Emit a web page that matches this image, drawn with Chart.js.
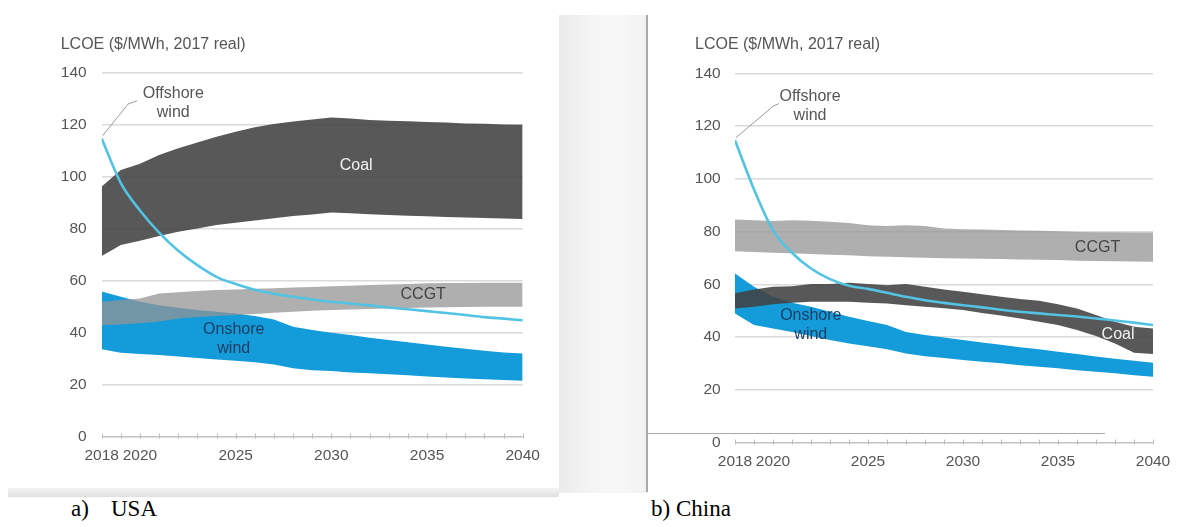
<!DOCTYPE html>
<html>
<head>
<meta charset="utf-8">
<script src="https://cdn.jsdelivr.net/npm/chart.js@4.4.1/dist/chart.umd.min.js"></script>
<style>
  html, body { margin: 0; padding: 0; background: #fff; }
  body { width: 1182px; height: 527px; position: relative; overflow: hidden; }
  .deco { position: absolute; }
  #band { left: 559px; top: 15px; width: 88px; height: 478px;
          background: linear-gradient(to right, #ebebeb, #f4f4f4 35%, #f8f8f8 65%, #f1f1f1); }
  #bottomShade { left: 8px; top: 488px; width: 551px; height: 9px;
                 background: linear-gradient(to bottom, #f3f3f3, #e0e0e0); }
  #vline { left: 646px; top: 15px; width: 1.5px; height: 477px; background: #a9a9a9; }
  #hline { left: 646px; top: 432.5px; width: 459px; height: 1.5px; background: #a9a9a9; }
  canvas { position: absolute; top: 0; }
  #usa { left: 0; }
  #china { left: 600px; }
  .cap { position: absolute; top: 497px; font-family: "Liberation Serif", "Times New Roman", serif;
         font-size: 23px; line-height: 23px; color: #000; white-space: pre; }
</style>
</head>
<body>
<div class="deco" id="band"></div>
<div class="deco" id="bottomShade"></div>
<div class="deco" id="vline"></div>
<div class="deco" id="hline"></div>
<canvas id="usa" width="560" height="490"></canvas>
<canvas id="china" width="582" height="495"></canvas>
<div class="cap" style="left:71px">a)</div>
<div class="cap" style="left:111px">USA</div>
<div class="cap" style="left:651px">b) China</div>

<script>
// Years on the horizontal axis and the labelled ticks
const years = [2018, 2019, 2020, 2021, 2022, 2023, 2024, 2025, 2026, 2027, 2028, 2029,
               2030, 2031, 2032, 2033, 2034, 2035, 2036, 2037, 2038, 2039, 2040];
const xTickYears = [2018, 2020, 2025, 2030, 2035, 2040];
const yTicks = [0, 20, 40, 60, 80, 100, 120, 140];

// USA – LCOE ranges ($/MWh, 2017 real)
const usaCoalHigh = [96.2, 102.6, 105, 108.3, 110.9, 113.2, 115.4, 117.3, 119, 120.3, 121.2, 122,
                     122.8, 122.4, 121.8, 121.5, 121.3, 121, 120.8, 120.5, 120.4, 120.1, 120];
const usaCoalLow = [69.5, 73.7, 75.4, 77.2, 78.8, 80.1, 81.4, 82.3, 83.2, 84, 84.9, 85.5,
                    86.2, 85.9, 85.6, 85.3, 85, 84.8, 84.5, 84.3, 84.1, 83.9, 83.7];
const usaCcgtHigh = [51.9, 52.6, 53.2, 55.1, 55.6, 56, 56.4, 56.6, 56.9, 57.1, 57.4, 57.6,
                     57.9, 58.1, 58.3, 58.5, 58.7, 59, 59.1, 59.1, 59.2, 59.2, 59.2];
const usaCcgtLow = [42.9, 43.2, 43.6, 44.3, 45.5, 46, 46.4, 46.8, 47.2, 47.7, 48.1, 48.4,
                    48.7, 48.9, 49.1, 49.3, 49.5, 49.7, 49.8, 49.9, 50, 50, 50];
const usaOnshoreHigh = [55.8, 53.8, 51.9, 50.6, 49.6, 48.7, 48.1, 47.4, 46.4, 45.1, 42.3, 41,
                        40, 39.1, 38.1, 37.2, 36.3, 35.5, 34.6, 33.8, 33.1, 32.4, 32];
const usaOnshoreLow = [33.6, 32.3, 31.8, 31.4, 30.8, 30.3, 29.7, 29.2, 28.6, 27.8, 26.3, 25.6,
                       25.3, 24.7, 24.4, 24, 23.6, 23.2, 22.8, 22.4, 22.1, 21.8, 21.5];
const usaOffshore = [114.7, 97.5, 87, 78.5, 71.5, 66, 61.5, 58.7, 56.5, 55, 53.8, 52.8,
                     51.9, 51.2, 50.5, 49.7, 49, 48.3, 47.6, 46.8, 46, 45.4, 44.8];

// China – LCOE ranges ($/MWh, 2017 real)
const chnCcgtHigh = [84.6, 84.3, 84, 84.3, 84.1, 83.7, 83.3, 82.4, 82.1, 82.4, 82.1, 81.2,
                     80.9, 80.8, 80.6, 80.4, 80.3, 80.1, 79.9, 79.8, 79.8, 79.7, 79.7];
const chnCcgtLow = [72.6, 72.3, 72, 71.8, 71.5, 71.2, 71, 70.7, 70.5, 70.3, 70.1, 69.9,
                    69.8, 69.7, 69.6, 69.4, 69.3, 69.2, 69, 68.9, 68.8, 68.7, 68.6];
const chnCoalHigh = [56.6, 58.1, 59.1, 59.3, 60.1, 60.1, 60.6, 60.1, 59.7, 60.1, 59.1, 58.1,
                     57.2, 56.3, 55.3, 54.5, 53.8, 52.5, 50.9, 48.4, 45.8, 43.9, 43.3];
const chnCoalLow = [50.9, 51.5, 52.5, 53, 53.4, 53.4, 53.4, 53, 52.8, 52.1, 51.5, 51,
                    50.3, 49.2, 48.2, 47.1, 45.8, 44.6, 42.7, 40.4, 37.6, 34.1, 33.6];
const chnOnshoreHigh = [64.1, 59.1, 55.3, 53, 51.5, 49.6, 47.7, 46.1, 44.6, 42, 40.8, 39.9,
                        38.9, 38, 37.1, 36.2, 35.4, 34.5, 33.6, 32.7, 31.8, 31.1, 30.3];
const chnOnshoreLow = [49, 44.6, 43.3, 42, 40.4, 38.9, 37.6, 36.6, 35.4, 33.8, 32.8, 32.1,
                       31.3, 30.7, 30.1, 29.4, 28.8, 28.2, 27.5, 26.9, 26.3, 25.6, 25];
const chnOffshore = [114.6, 96, 80.5, 72, 66, 62, 59.5, 58.3, 56.8, 55.3, 54, 53,
                     52.1, 51.3, 50.4, 49.6, 49, 48.4, 47.8, 47.1, 46.3, 45.5, 44.6];

const FONT = '"Liberation Sans", Arial, sans-serif';
const TEXT = '#555555';
const COLORS = {
  coal: 'rgba(65,65,65,0.88)',
  ccgt: 'rgba(148,148,148,0.75)',
  onshore: '#139cd9',
  offshore: '#52c3e2'
};

const pts = vals => vals.map((v, i) => ({ x: years[i], y: v }));

function bandPair(low, high, color, order) {
  return [
    { data: pts(low), borderWidth: 0, pointRadius: 0, fill: false, order: order },
    { data: pts(high), borderWidth: 0, pointRadius: 0, fill: '-1', backgroundColor: color, order: order }
  ];
}

// Series labels and leader line, placed in data coordinates
const annotationPlugin = {
  id: 'seriesLabels',
  afterDatasetsDraw(chart, args, opts) {
    const { ctx, scales: { x, y } } = chart;
    ctx.save();
    // yearly minor tick marks on the zero line
    ctx.strokeStyle = '#bdbdbd';
    ctx.lineWidth = 1;
    const y0 = Math.round(y.getPixelForValue(0)) + 0.5;
    years.forEach(yr => {
      const px = Math.round(x.getPixelForValue(yr)) + 0.5;
      ctx.beginPath();
      ctx.moveTo(px, y0 - 4);
      ctx.lineTo(px, y0 + 1);
      ctx.stroke();
    });
    // leader line to the offshore wind curve
    ctx.strokeStyle = '#9a9a9a';
    ctx.lineWidth = 1;
    ctx.beginPath();
    opts.leader.forEach((p, i) => {
      const px = x.getPixelForValue(p[0]);
      const py = y.getPixelForValue(p[1]);
      if (i === 0) ctx.moveTo(px, py); else ctx.lineTo(px, py);
    });
    ctx.stroke();
    // text labels
    ctx.textAlign = 'center';
    ctx.textBaseline = 'middle';
    opts.labels.forEach(l => {
      ctx.font = '16px ' + FONT;
      ctx.fillStyle = l.color;
      const cx = x.getPixelForValue(l.x);
      const cy = y.getPixelForValue(l.y);
      const n = l.lines.length;
      l.lines.forEach((t, i) => {
        ctx.fillText(t, cx, cy + (i - (n - 1) / 2) * 19);
      });
    });
    ctx.restore();
  }
};

function makeChart(id, cfg) {
  const tickFont = { family: FONT, size: 15.5 };
  return new Chart(document.getElementById(id), {
    type: 'line',
    data: {
      datasets: [
        { data: pts(cfg.offshore), borderColor: COLORS.offshore, borderWidth: 2.6, pointRadius: 0,
          fill: false, cubicInterpolationMode: 'monotone', order: 0 },
        ...bandPair(cfg.ccgtLow, cfg.ccgtHigh, COLORS.ccgt, 1),
        ...bandPair(cfg.coalLow, cfg.coalHigh, COLORS.coal, 2),
        ...bandPair(cfg.onLow, cfg.onHigh, COLORS.onshore, 3)
      ]
    },
    options: {
      responsive: false,
      animation: false,
      devicePixelRatio: 1,
      layout: { padding: { left: cfg.padLeft, right: cfg.padRight, top: 0, bottom: 0 } },
      elements: { line: { tension: 0 } },
      plugins: {
        legend: { display: false },
        tooltip: { enabled: false },
        title: {
          display: true, text: 'LCOE ($/MWh, 2017 real)', align: 'start', color: TEXT,
          font: { family: FONT, size: 16, weight: 'normal' },
          padding: { top: cfg.titleTop, bottom: cfg.titleBottom }
        },
        seriesLabels: { labels: cfg.labels, leader: cfg.leader }
      },
      scales: {
        x: {
          type: 'linear', min: 2018, max: 2040,
          grid: { display: false, drawTicks: false },
          border: { display: false },
          afterBuildTicks: s => { s.ticks = xTickYears.map(v => ({ value: v })); },
          afterFit: s => { s.height = cfg.xAxisHeight; },
          ticks: { autoSkip: false, maxRotation: 0, padding: cfg.xPad, color: TEXT, font: tickFont,
                   callback: v => String(v) }
        },
        y: {
          min: 0, max: 140,
          afterBuildTicks: s => { s.ticks = yTicks.map(v => ({ value: v })); },
          afterFit: s => { s.width = cfg.yAxisWidth; },
          grid: { drawTicks: false, lineWidth: 1.6,
                  color: c => (c.tick && c.tick.value === 0) ? '#c2c2c2' : '#dadada' },
          border: { display: false },
          ticks: { padding: cfg.yPad, color: TEXT, font: tickFont }
        }
      }
    },
    plugins: [annotationPlugin]
  });
}

makeChart('usa', {
  offshore: usaOffshore,
  ccgtLow: usaCcgtLow, ccgtHigh: usaCcgtHigh,
  coalLow: usaCoalLow, coalHigh: usaCoalHigh,
  onLow: usaOnshoreLow, onHigh: usaOnshoreHigh,
  padLeft: 60.7, padRight: 37.3, yAxisWidth: 41, yPad: 15,
  titleTop: 35.4, titleBottom: 18.1, xAxisHeight: 53.3, xPad: 10,
  labels: [
    { lines: ['Coal'], x: 2031.3, y: 104.1, color: '#f2f2f2' },
    { lines: ['CCGT'], x: 2034.8, y: 54.5, color: '#444444' },
    { lines: ['Onshore', 'wind'], x: 2024.9, y: 37.4, color: '#1d3d63' },
    { lines: ['Offshore', 'wind'], x: 2021.74, y: 128.2, color: TEXT }
  ],
  leader: [[2018.05, 115.8], [2019.39, 128.0], [2019.85, 129.2]]
});

makeChart('china', {
  offshore: chnOffshore,
  ccgtLow: chnCcgtLow, ccgtHigh: chnCcgtHigh,
  coalLow: chnCoalLow, coalHigh: chnCoalHigh,
  onLow: chnOnshoreLow, onHigh: chnOnshoreHigh,
  padLeft: 95, padRight: 29, yAxisWidth: 40, yPad: 14.3,
  titleTop: 35.4, titleBottom: 18.7, xAxisHeight: 52.3, xPad: 9.7,
  labels: [
    { lines: ['Coal'], x: 2038.16, y: 40.8, color: '#f2f2f2' },
    { lines: ['CCGT'], x: 2037.08, y: 74.1, color: '#444444' },
    { lines: ['Onshore', 'wind'], x: 2021.99, y: 44.6, color: '#1d3d63' },
    { lines: ['Offshore', 'wind'], x: 2021.95, y: 127.5, color: TEXT }
  ],
  leader: [[2018.05, 115.6], [2020.0, 127.5], [2020.3, 128.5]]
});
</script>
</body>
</html>
